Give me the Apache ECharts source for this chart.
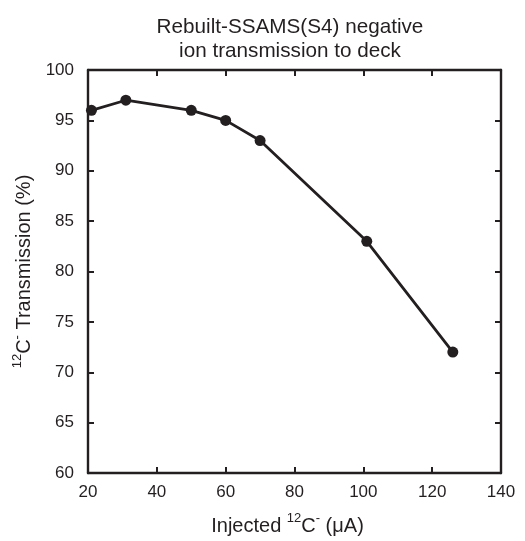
<!DOCTYPE html>
<html><head><meta charset="utf-8">
<script src="https://cdn.jsdelivr.net/npm/echarts@6/dist/echarts.min.js"></script>
<style>html,body{margin:0;padding:0;background:#fff}#c{width:525px;height:541px}</style>
</head><body><div id="c"></div>
<script>
const injected = [21, 31, 50, 60, 70, 101, 126];
const transmission = [96, 97, 96, 95, 93, 83, 72];
const xTicks = [20, 40, 60, 80, 100, 120, 140];
const yTicks = [60, 65, 70, 75, 80, 85, 90, 95, 100];
const titleLines = ['Rebuilt-SSAMS(S4) negative', 'ion transmission to deck'];

const ink = '#231f20';
const font = '"Liberation Sans", Arial, sans-serif';
const chart = echarts.init(document.getElementById('c'));
const lineStyle = { color: ink, width: 2.4 };
const commonX = {
  type: 'value', min: xTicks[0], max: xTicks[xTicks.length - 1], interval: 20,
  axisLine: { show: true, onZero: false, lineStyle: lineStyle },
  axisTick: { show: true, inside: true, length: 6, lineStyle: { color: ink, width: 2 } },
  splitLine: { show: false }
};
const commonY = {
  type: 'value', min: yTicks[0], max: yTicks[yTicks.length - 1], interval: 5,
  axisLine: { show: true, onZero: false, lineStyle: lineStyle },
  axisTick: { show: true, inside: true, length: 6, lineStyle: { color: ink, width: 2 } },
  splitLine: { show: false }
};
const rich = {
  n: { fontSize: 20, fontFamily: font, color: ink, lineHeight: 24, verticalAlign: 'bottom' },
  s: { fontSize: 13, fontFamily: font, color: ink, lineHeight: 24, verticalAlign: 'top' }
};
chart.setOption({
  animation: false,
  title: {
    text: titleLines.join('\n'), left: 285, top: 10, textAlign: 'center',
    textStyle: { fontSize: 20.7, fontWeight: 'normal', fontFamily: font, color: ink, lineHeight: 24 }
  },
  grid: { left: 88, right: 24, top: 70, bottom: 64 },
  xAxis: [
    Object.assign({}, commonX, {
      position: 'bottom',
      axisLabel: { fontSize: 17, fontFamily: font, color: ink, margin: 11 },
      name: '{n|Injected }{s|12}{n|C}{s|-}{n| (μA)}', nameLocation: 'middle', nameGap: 39,
      nameTextStyle: { fontSize: 20, fontFamily: font, color: ink, rich: rich, padding: [0, 14, 0, 0] }
    }),
    Object.assign({}, commonX, { position: 'top', axisLabel: { show: false } })
  ],
  yAxis: [
    Object.assign({}, commonY, {
      position: 'left',
      axisLabel: { fontSize: 17, fontFamily: font, color: ink, margin: 14 },
      name: '{s|12}{n|C}{s|-}{n| Transmission (%)}', nameLocation: 'middle', nameGap: 48, nameRotate: 90,
      nameTextStyle: { fontSize: 20, fontFamily: font, color: ink, rich: rich }
    }),
    Object.assign({}, commonY, { position: 'right', axisLabel: { show: false } })
  ],
  series: [{
    type: 'line', data: injected.map((x, i) => [x, transmission[i]]),
    symbol: 'circle', symbolSize: 11, showSymbol: true,
    lineStyle: { color: ink, width: 2.8 }, itemStyle: { color: ink }
  }]
});
</script></body></html>
